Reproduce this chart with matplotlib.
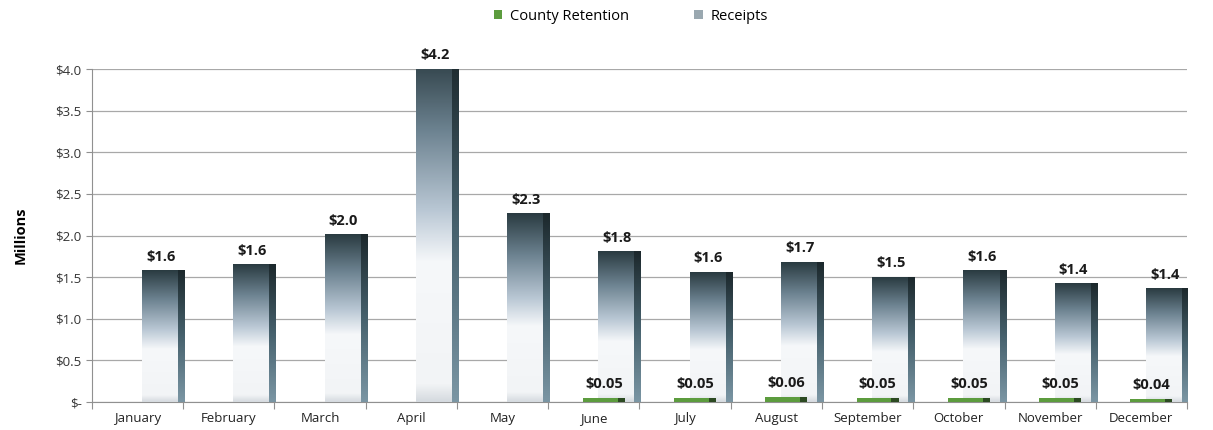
import matplotlib.pyplot as plt
import numpy as np
from matplotlib.colors import LinearSegmentedColormap
from matplotlib.patches import Patch

plt.rcParams['font.family'] = ['Open Sans', 'DejaVu Sans']

months = ['January', 'February', 'March', 'April', 'May', 'June', 'July',
          'August', 'September', 'October', 'November', 'December']
receipts = [1.58, 1.65, 2.01, 4.2, 2.26, 1.81, 1.56, 1.68, 1.50, 1.58, 1.42, 1.36]
retention = [0, 0, 0, 0, 0, 0.05, 0.05, 0.06, 0.05, 0.05, 0.05, 0.04]
yticks = [0, 0.5, 1.0, 1.5, 2.0, 2.5, 3.0, 3.5, 4.0]
ytick_labels = ['$-', '$0.5', '$1.0', '$1.5', '$2.0', '$2.5', '$3.0', '$3.5', '$4.0']

ymax = 4.0
x = np.arange(len(months))

front = LinearSegmentedColormap.from_list('front', [
    (0.0, '#d5dadf'), (0.05, '#f2f4f6'), (0.40, '#f6f8fa'),
    (0.55, '#b9c7d4'), (0.78, '#6c8290'), (1.0, '#2a3b41')])
side = LinearSegmentedColormap.from_list('side', [
    (0.0, '#7b96a4'), (0.5, '#46616d'), (1.0, '#1c282c')])
grad = np.linspace(0, 1, 256).reshape(-1, 1)

fig = plt.figure(figsize=(12.13, 4.30), dpi=100)
ax = fig.add_axes([0.0758, 0.0651, 0.9028, 0.7744])

rec_bars = ax.bar(x + 0.285, receipts, width=0.47, color='none', zorder=3)
green_bars = ax.bar(x + 0.11, retention, width=0.46, color='#5c9c3e', zorder=5)

# gradient fill + dark side face for receipts
for b in rec_bars:
    x0, w, h = b.get_x(), b.get_width(), b.get_height()
    sw = 0.075
    ax.imshow(grad, cmap=front, origin='lower', aspect='auto',
              extent=[x0, x0 + w - sw, 0, h], zorder=3)
    ax.imshow(grad, cmap=side, origin='lower', aspect='auto',
              extent=[x0 + w - sw, x0 + w, 0, h], zorder=3)
    top = min(h, ymax)
    ax.text(x0 + w / 2 - 0.03, top + 0.08, f'${h:.1f}', ha='center', va='bottom',
            fontsize=10.5, fontweight='bold', color='#1a1a1a', zorder=6)

for b in green_bars:
    h = b.get_height()
    if h <= 0:
        continue
    x0, w = b.get_x(), b.get_width()
    ax.bar(x0 + w - 0.08, h, width=0.08, align='edge', color='#2c4a22', zorder=5.5)
    ax.text(x0 + w / 2, h + 0.08, f'${h:.2f}', ha='center', va='bottom',
            fontsize=10.5, fontweight='bold', color='#1a1a1a', zorder=6)

ax.set_xlim(-0.5, len(months) - 0.5)
ax.set_ylim(0, ymax)
ax.set_yticks(yticks)
ax.set_yticklabels(ytick_labels, fontsize=9.5, color='#333333')
ax.set_xticks(np.arange(-0.5, len(months), 1))
ax.set_xticklabels([])
ax.set_xticks(x, minor=True)
ax.set_xticklabels(months, minor=True, fontsize=9.5, color='#222222')
ax.tick_params(axis='x', which='major', length=5, color='#909090')
ax.tick_params(axis='x', which='minor', length=0, pad=7)
ax.tick_params(axis='y', length=4, color='#909090')
ax.grid(axis='y', color='#a8a8a8', linewidth=0.9, zorder=0)
ax.set_axisbelow(True)
for s in ['top', 'right']:
    ax.spines[s].set_visible(False)
for s in ['left', 'bottom']:
    ax.spines[s].set_color('#909090')

ax.set_ylabel('Millions', fontsize=10.5, fontweight='bold', labelpad=20)

handles = [Patch(facecolor='#5c9c3e', label='County Retention'),
           Patch(facecolor='#9aa8b0', label='Receipts')]
fig.legend(handles=handles, loc='center', bbox_to_anchor=(0.52, 0.962), ncol=2,
           frameon=False, fontsize=10.5, handlelength=0.6, handleheight=0.6,
           columnspacing=4.5, handletextpad=0.5)

fig.savefig('out.png', dpi=100)
